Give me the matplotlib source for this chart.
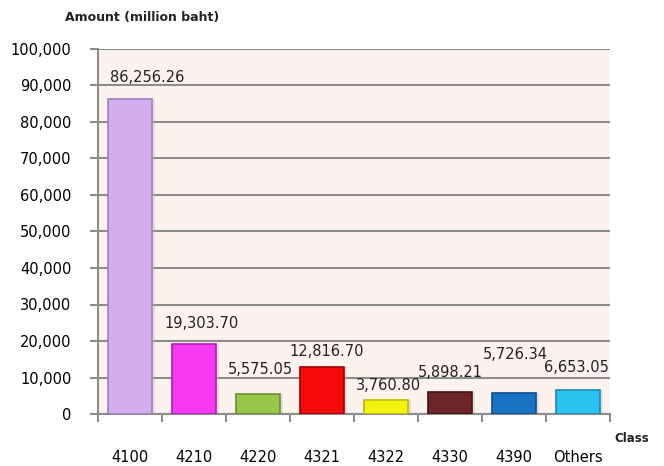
import matplotlib
matplotlib.use("Agg")
import matplotlib.pyplot as plt
import numpy as np

categories = ["4100", "4210", "4220", "4321", "4322", "4330", "4390", "Others"]
values = [86256.26, 19303.70, 5575.05, 12816.70, 3760.80, 5898.21, 5726.34, 6653.05]
labels = ["86,256.26", "19,303.70", "5,575.05", "12,816.70", "3,760.80", "5,898.21", "5,726.34", "6,653.05"]
yticks = [0, 10000, 20000, 30000, 40000, 50000, 60000, 70000, 80000, 90000, 100000]

colors = ["#D3AEEE", "#F53AF2", "#97C64A", "#F50A0A", "#F2F20C", "#6A2628", "#1873C4", "#2CC3F0"]
edges = ["#9F7FB8", "#B01CB0", "#6A8E2E", "#A00000", "#B8B800", "#421416", "#0E4C86", "#1A8AB0"]
label_offsets = [22, 20, 24, 16, 15, 20, 39, 22]  # px above bar top
label_dx = [17, 8, 2, 5, 2, 0, 1, -2]

plt.rcParams['font.family'] = ['DejaVu Sans']
fig = plt.figure(figsize=(6.64, 4.66), dpi=100)
ax = fig.add_axes([98/664, 52/466, 512/664, 365/466])
ax.set_facecolor("#FDF3EE")

x = np.arange(len(categories))
# shadow
ax.bar(x + 0.05, values, width=0.68, color="#BBBBBB", alpha=0.35, zorder=2)
bars = ax.bar(x, values, width=0.68, color=colors, edgecolor=edges, linewidth=1.2, zorder=3)

ax.set_xlim(-0.5, len(categories) - 0.5)
ax.set_ylim(0, 100000)
ax.set_yticks(yticks)
ax.set_yticklabels([f"{v:,}" for v in yticks], fontsize=10.5)
ax.yaxis.grid(True, color="#8C8C8C", linewidth=1.5, zorder=1)
ax.set_axisbelow(True)
ax.tick_params(axis="y", length=6, width=1.5, color="#8C8C8C", pad=13)

ax.set_xticks(np.arange(-0.5, len(categories), 1.0))
ax.set_xticklabels([])
ax.set_xticks(x, minor=True)
ax.set_xticklabels(categories, minor=True, fontsize=10.5)
ax.tick_params(axis="x", which="major", length=6, width=1.5, color="#8C8C8C")
ax.tick_params(axis="x", which="minor", length=0, pad=26)

for s in ["top", "right"]:
    ax.spines[s].set_visible(False)
for s in ["left", "bottom"]:
    ax.spines[s].set_color("#8C8C8C")
    ax.spines[s].set_linewidth(1.5)

for i, (v, lab) in enumerate(zip(values, labels)):
    ax.annotate(lab, (x[i], v), xytext=(label_dx[i] * 0.72, label_offsets[i] * 0.72),
                textcoords="offset points", ha="center", va="center", fontsize=10.5,
                color="#222222", zorder=5)

fig.text(65/664, 1 - 18/466, "Amount (million baht)", fontsize=9, fontweight="bold",
         va="center", ha="left", color="#222222")
fig.text(632/664, 1 - 438/466, "Class", fontsize=8.5, fontweight="bold",
         va="center", ha="center", color="#222222")

fig.savefig("out.png", dpi=100)
